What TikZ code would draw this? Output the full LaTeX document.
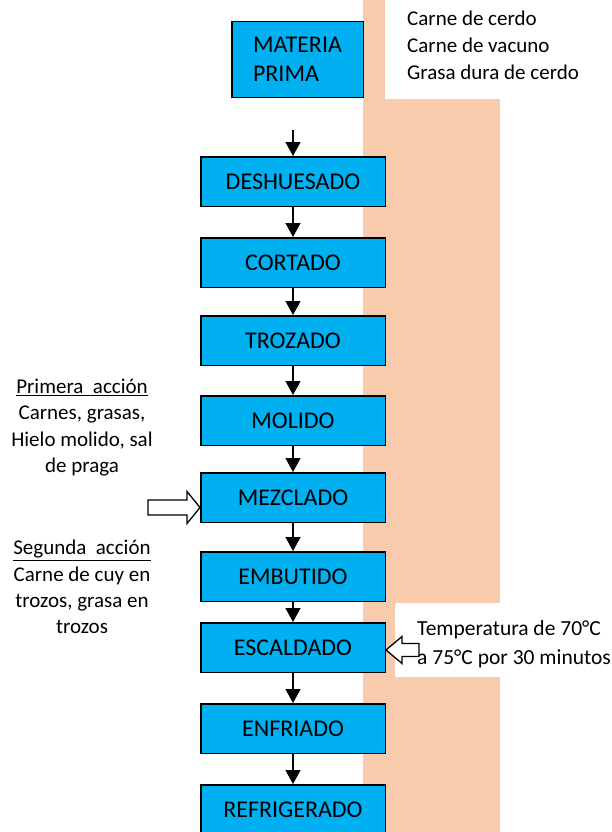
\documentclass[tikz,border=0pt]{standalone}
\usepackage{fontspec}
\setmainfont{Carlito}
\usepackage{tikz}
\usetikzlibrary{positioning,calc}
\usetikzlibrary{arrows.meta}
\definecolor{celeste}{HTML}{00B0F0}
\definecolor{durazno}{HTML}{F8CBAD}
\tikzset{
   paso/.style={draw, line width=1.5bp, fill=celeste, minimum width=184.5bp, minimum height=49.5bp, inner sep=0pt, font=\fontsize{24bp}{29bp}\selectfont},
   flecha/.style={-{Triangle[length=14bp,width=15bp]}, line width=1.3bp},
   hueca/.style={draw, fill=white, line width=1.3bp},
   nota/.style={inner sep=0pt, font=\fontsize{21bp}{26.3bp}\selectfont}
}

\begin{document}
\begin{tikzpicture}[x=1bp,y=-1bp]
      \useasboundingbox (0,0) rectangle (612,832);
      \fill[white] (0,0) rectangle (612,832);
      \fill[durazno] (363,0) rectangle (500,832);
      \fill[white] (385,0) rectangle (612,99);
      \fill[white] (395,603) rectangle (612,677);

      \node[paso, minimum width=131.5bp, minimum height=75.5bp, align=left] (s0) at (297.5,59.5) {MATERIA\\PRIMA};
      \node[paso] (s1) at (293,181.5) {DESHUESADO};
      \node[paso, below=30bp of s1] (s2) {CORTADO};
      \node[paso, below=27bp of s2] (s3) {TROZADO};
      \node[paso, below=29bp of s3] (s4) {MOLIDO};
      \node[paso, below=26bp of s4] (s5) {MEZCLADO};
      \node[paso, below=28bp of s5] (s6) {EMBUTIDO};
      \node[paso, below=20bp of s6] (s7) {ESCALDADO};
      \node[paso, below=30bp of s7] (s8) {ENFRIADO};
      \node[paso, below=30bp of s8] (s9) {REFRIGERADO};

      \coordinate (c0) at (293,130);
      \draw[flecha] (c0) -- (s1);
      \foreach \a/\b in {s1/s2,s2/s3,s3/s4,s4/s5,s5/s6,s6/s7,s7/s8,s8/s9}
         \draw[flecha] (\a) -- (\b);

      \node[nota, anchor=west, align=left, font=\fontsize{21bp}{27bp}\selectfont] (n0) at (407,45) {Carne de cerdo\\Carne de vacuno\\Grasa dura de cerdo};
      \node[nota, align=center] (n1) at (82,427.5) {\underline{Primera\ \ acción}\\Carnes, grasas,\\Hielo molido, sal\\de praga};
      \node[nota, align=center] (n2) at (82,587) {\underline{Segunda\ \ acción}\\Carne de cuy en\\trozos, grasa en\\trozos};

      \coordinate[yshift=-10bp] (t1) at (s5.west);
      \begin{scope}[shift={(t1)}]
         \draw[hueca] (0,0) -- (-13,-16) -- (-13,-7.5) -- (-52,-7.5) -- (-52,7.5) -- (-13,7.5) -- (-13,16) -- cycle;
      \end{scope}
      \coordinate[yshift=-2.5bp] (t2) at (s7.east);
      \begin{scope}[shift={(t2)}]
         \draw[hueca] (0,0) -- (16,-13.5) -- (16,-6.5) -- (33,-6.5) -- (33,6.5) -- (16,6.5) -- (16,13.5) -- cycle;
      \end{scope}
      \node[nota, anchor=west, align=left, font=\fontsize{21.5bp}{29bp}\selectfont] (n3) at (417,644) {Temperatura de 70°C\\a 75°C por 30 minutos};
\end{tikzpicture}
\end{document}
